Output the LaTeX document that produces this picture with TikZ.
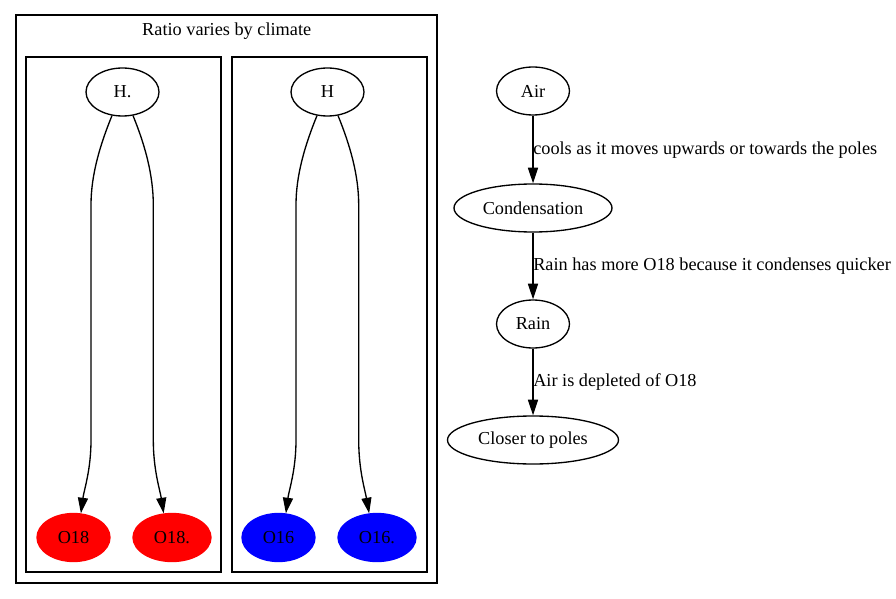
\documentclass[tikz,border=0pt]{standalone}
\usepackage{fontspec}
\setmainfont{Liberation Serif}
\usetikzlibrary{arrows.meta,shapes.geometric}
\begin{document}
\begin{tikzpicture}[x=0.75pt,y=-0.75pt,
  every node/.style={font=\fontsize{13.7pt}{16pt}\selectfont},
  gv/.style={ellipse,draw,line width=1pt,inner sep=0pt,minimum height=36pt},
  redn/.style={gv,draw=red,fill=red},
  bluen/.style={gv,draw=blue,fill=blue},
  cluster/.style={draw,line width=1pt},
  gvedge/.style={line width=1pt,-{Triangle[length=11.7pt,width=7.5pt]}},
  elabel/.style={anchor=base west,inner sep=0pt}]
\useasboundingbox (0,0) rectangle (896,599);
% clusters
\node[cluster,minimum width=421*0.75pt,minimum height=568*0.75pt,inner sep=0pt] (outer) at (226.5,299) {};
\node[anchor=base,inner sep=0pt] (title) at (226.7,36) {Ratio varies by climate};
\node[cluster,minimum width=195*0.75pt,minimum height=515*0.75pt,inner sep=0pt] (cl) at (123.5,314.5) {};
\node[cluster,minimum width=195*0.75pt,minimum height=515*0.75pt,inner sep=0pt] (cr) at (329.5,314.5) {};
% nodes left cluster
\node[gv,minimum width=54.75pt] (hd) at (122.5,92) {H.};
\node[redn,minimum width=54.75pt] (o18) at (73.5,537.5) {O18};
\node[redn,minimum width=58.5pt] (o18d) at (172,537.5) {O18.};
% nodes right cluster
\node[gv,minimum width=54.75pt] (h) at (327.5,92) {H};
\node[bluen,minimum width=54.75pt] (o16) at (278.5,537.5) {O16};
\node[bluen,minimum width=58.5pt] (o16d) at (377,537.5) {O16.};
% right chain
\node[gv,minimum width=54.75pt] (air) at (533,91) {Air};
\node[gv,minimum width=118.5pt] (cond) at (533,208) {Condensation};
\node[gv,minimum width=54.75pt] (rain) at (533,324) {Rain};
\node[gv,minimum width=128.25pt] (close) at (533,440) {Closer to poles};
% edges in clusters
\draw[gvedge] (hd.246) .. controls (100,145) and (91,175) .. (91,205) -- (91,440)
  .. controls (91,470) and (84,490) .. (o18.73);
\draw[gvedge] (hd.294) .. controls (145,145) and (153.3,175) .. (153.3,205) -- (153.3,440)
  .. controls (153.3,470) and (160,490) .. (o18d.109);
\draw[gvedge] (h.246) .. controls (305,145) and (296,175) .. (296,205) -- (296,440)
  .. controls (296,470) and (289,490) .. (o16.73);
\draw[gvedge] (h.294) .. controls (350,145) and (358.7,175) .. (358.7,205) -- (358.7,440)
  .. controls (358.7,470) and (365,490) .. (o16d.108);
% chain edges
\draw[gvedge] (air.south) -- (cond.north);
\draw[gvedge] (cond.south) -- (rain.north);
\draw[gvedge] (rain.south) -- (close.north);
\node[elabel] (l1) at (533,155) {cools as it moves upwards or towards the poles};
\node[elabel] (l2) at (533,270.7) {Rain has more O18 because it condenses quicker};
\node[elabel] (l3) at (533,386.7) {Air is depleted of O18};
\end{tikzpicture}
\end{document}
